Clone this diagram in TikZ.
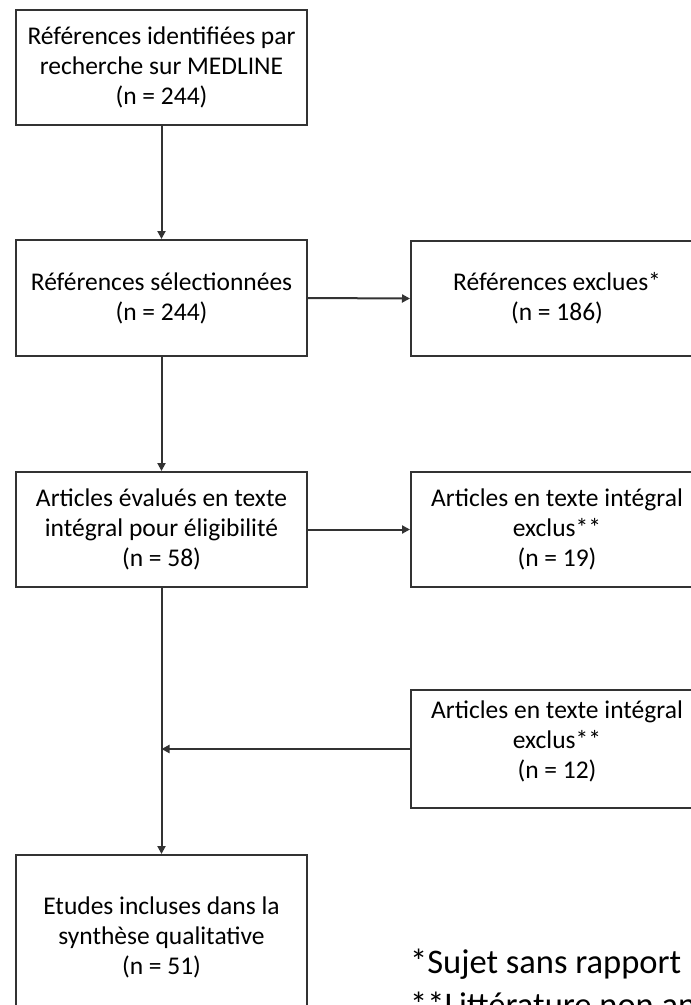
\documentclass[tikz,border=0pt]{standalone}
\usepackage{fontspec}
\setmainfont{Carlito}
\usetikzlibrary{arrows.meta}
\definecolor{linec}{HTML}{333333}
\tikzset{
  flowbox/.style={draw=linec, line width=2pt, minimum width=291pt, inner sep=0pt,
    align=center, font=\fontsize{25.5}{30}\selectfont},
  txt/.style={align=center, inner sep=0pt, font=\fontsize{25.5}{30}\selectfont},
  notetxt/.style={anchor=base west, inner sep=0pt, font=\fontsize{34.5}{43}\selectfont},
  conn/.style={draw=linec, line width=2pt, -{Triangle[length=8pt,width=8pt]}},
}
\begin{document}
\begin{tikzpicture}[x=1pt,y=-1pt]
\path[use as bounding box] (0,0) rectangle (691,1005);
\clip (0,0) rectangle (691,1005);
\fill[white] (0,0) rectangle (691,1005);

\node[flowbox, minimum height=115pt] (b1) at (161.5,67.5)
  {Références identifiées par\\recherche sur MEDLINE\\(n = 244)};
\node[flowbox, minimum height=116pt] (b2) at (161.5,298)
  {Références sélectionnées\\(n = 244)};
\node[flowbox, minimum height=115pt] (b3) at (161.5,529.5)
  {Articles évalués en texte\\intégral pour éligibilité\\(n = 58)};
\node[flowbox, minimum height=164pt] (f) at (161.5,937)
  {Etudes incluses dans la\\synthèse qualitative\\(n = 51)};

\node[flowbox, minimum width=292pt, minimum height=115pt] (r1) at (557,298.5)
  {Références exclues*\\(n = 186)};
\node[flowbox, minimum width=292pt, minimum height=115pt] (r2) at (557,529.5)
  {Articles en texte intégral\\exclus**\\(n = 19)};
\node[flowbox, minimum width=292pt, minimum height=118pt] (r3) at (557,749) {};
\node[txt] (r3t) at (557,741)
  {Articles en texte intégral\\exclus**\\(n = 12)};

\node[notetxt] (note1) at (410,973) {*Sujet sans rapport};
\node[notetxt] (note2) at (410,1016) {**Littérature non anglophone};

\coordinate (j) at (b3.south |- r3.west);
\draw[conn] (b1.south) -- (b2.north);
\draw[conn] (b2.east) -- (r1.west);
\draw[conn] (b2.south) -- (b3.north);
\draw[conn] (b3.east) -- (r2.west);
\draw[conn] (b3.south) -- (f.north);
\draw[conn] (r3.west) -- (j);
\end{tikzpicture}
\end{document}
